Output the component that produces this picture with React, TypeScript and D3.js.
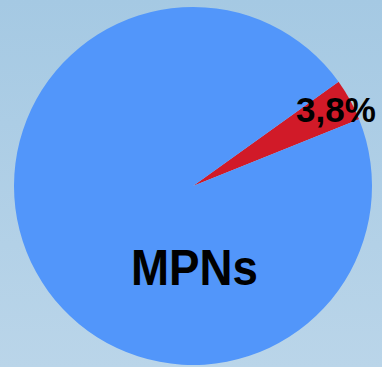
import React from "react";
import * as d3 from "d3";

const categories = ["Other", "MPNs"];
const values = [3.8, 96.2];
const labels = ["3,8%", "MPNs"];
const colors = ["#d11a28", "#5296fa"];

const W = 382;
const H = 367;

export default function App() {
  const cx = 193;
  const cy = 186;
  const r = 179;
  const startDeg = 54.4;
  const pie = d3
    .pie<number>()
    .sort(null)
    .startAngle((startDeg * Math.PI) / 180)
    .endAngle(((startDeg + 360) * Math.PI) / 180);
  const arcs = pie(values);
  const arc = d3.arc<d3.PieArcDatum<number>>().innerRadius(0).outerRadius(r);

  return (
    <svg
      width={W}
      height={H}
      style={{ position: "absolute", left: 0, top: 0 }}
      fontFamily="'Liberation Sans', Arial, sans-serif"
    >
      <defs>
        <linearGradient id="bg" x1="0" y1="0" x2="0" y2="1">
          <stop offset="0" stopColor="#a5c9e3" />
          <stop offset="1" stopColor="#bad5e9" />
        </linearGradient>
      </defs>
      <rect width={W} height={H} fill="url(#bg)" />
      <g transform={`translate(${cx},${cy})`}>
        {arcs.map((a, i) => (
          <path key={categories[i]} d={arc(a) || ""} fill={colors[i]} />
        ))}
      </g>
      <text x={336} y={122} textAnchor="middle" fontWeight="bold" fontSize={35} fill="#000">
        {labels[0]}
      </text>
      <text
        x={194.5}
        y={285}
        textAnchor="middle"
        fontWeight="bold"
        fontSize={50}
        textLength={127}
        lengthAdjust="spacingAndGlyphs"
        fill="#000"
      >
        {labels[1]}
      </text>
    </svg>
  );
}
